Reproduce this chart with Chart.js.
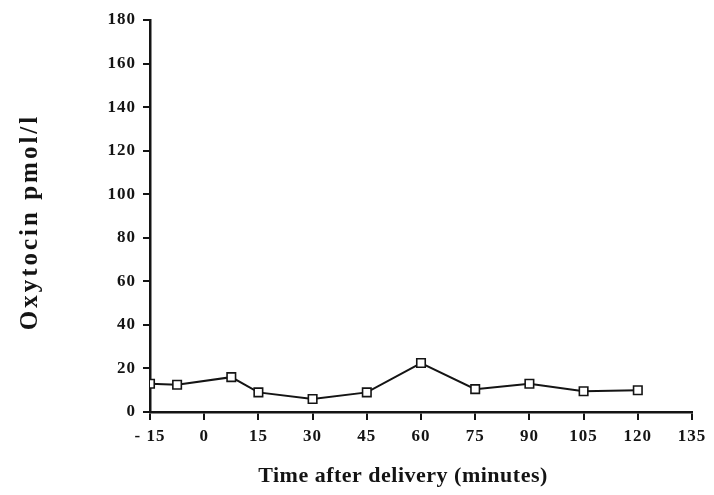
<!DOCTYPE html>
<html>
<head>
<meta charset="utf-8">
<script src="https://cdn.jsdelivr.net/npm/chart.js@4/dist/chart.umd.min.js"></script>
<style>
    html, body { margin: 0; padding: 0; background: #fff; }
    canvas { display: block; }
</style>
</head>
<body>
<canvas id="oxy-chart" width="714" height="495"></canvas>
<script>
const TIMES = [-15, -7.5, 7.5, 15, 30, 45, 60, 75, 90, 105, 120];
const OXYTOCIN = [13, 12.5, 16, 9, 6, 9, 22.5, 10.5, 13, 9.5, 10];
const X_TICKS = [-15, 0, 15, 30, 45, 60, 75, 90, 105, 120, 135];
const Y_TICKS = [0, 20, 40, 60, 80, 100, 120, 140, 160, 180];
const X_TITLE = "Time after delivery (minutes)";
const Y_TITLE = "Oxytocin pmol/l";

const INK = "#141414";
const SERIF = "'Liberation Serif', 'DejaVu Serif', serif";

// white page, spaced-out lettering like the scanned figure, and the two axis titles
const paperPlugin = {
    id: "paper",
    beforeDraw: (chart) => {
        const c = chart.ctx;
        c.save();
        c.fillStyle = "#fff";
        c.fillRect(0, 0, chart.width, chart.height);
        c.restore();
        c.letterSpacing = "1px";
    },
    afterDraw: (chart) => {
        const c = chart.ctx;
        const area = chart.chartArea;
        c.save();
        c.fillStyle = INK;
        c.textAlign = "center";
        c.textBaseline = "alphabetic";

        c.font = `bold 22px ${SERIF}`;
        c.letterSpacing = "0.5px";
        c.fillText(X_TITLE, 403, 482);

        c.font = `bold 25px ${SERIF}`;
        c.letterSpacing = "3px";
        c.translate(37, (area.top + area.bottom) / 2 + 6);
        c.rotate(-Math.PI / 2);
        c.fillText(Y_TITLE, 0, 0);
        c.restore();
        c.letterSpacing = "0px";
    },
};

const ctx = document.getElementById("oxy-chart").getContext("2d");

new Chart(ctx, {
    type: "line",
    data: {
        datasets: [{
            label: "Oxytocin",
            data: TIMES.map((t, i) => ({ x: t, y: OXYTOCIN[i] })),
            borderColor: INK,
            borderWidth: 2,
            backgroundColor: "#fff",
            pointStyle: "rect",
            pointRadius: 6,
            pointBorderWidth: 1.6,
            pointBorderColor: INK,
            pointBackgroundColor: "#fff",
            tension: 0,
        }],
    },
    plugins: [paperPlugin],
    options: {
        responsive: false,
        animation: false,
        layout: { padding: { top: 20, right: 22, left: 0, bottom: 0 } },
        plugins: {
            legend: { display: false },
            tooltip: { enabled: false },
        },
        scales: {
            x: {
                type: "linear",
                min: -15,
                max: 135,
                afterBuildTicks: (scale) => {
                    scale.ticks = X_TICKS.map((v) => ({ value: v }));
                },
                afterFit: (scale) => { scale.height = 83; },
                ticks: {
                    color: INK,
                    font: { family: SERIF, size: 17, weight: "bold" },
                    padding: 6,
                    maxRotation: 0,
                    callback: (v) => (v < 0 ? "- " + Math.abs(v) : String(v)),
                },
                grid: { drawOnChartArea: false, drawTicks: true, tickLength: 8, color: INK, lineWidth: 2 },
                border: { color: INK, width: 2.5 },
            },
            y: {
                min: 0,
                max: 180,
                afterBuildTicks: (scale) => {
                    scale.ticks = Y_TICKS.map((v) => ({ value: v }));
                },
                afterFit: (scale) => { scale.width = 150; },
                ticks: {
                    color: INK,
                    font: { family: SERIF, size: 17, weight: "bold" },
                    padding: 7,
                },
                grid: { drawOnChartArea: false, drawTicks: true, tickLength: 7, color: INK, lineWidth: 2 },
                border: { color: INK, width: 2.5 },
            },
        },
    },
});
</script>
</body>
</html>
